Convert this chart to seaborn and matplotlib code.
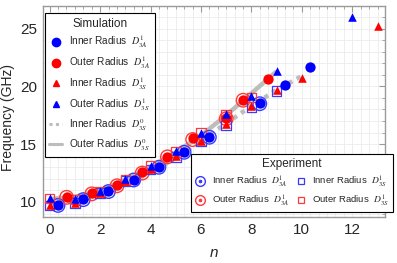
import numpy as np
import matplotlib
matplotlib.use("Agg")
import matplotlib.pyplot as plt
import seaborn as sns
from matplotlib.lines import Line2D
from matplotlib.ticker import MultipleLocator

# ------------------ DATA ------------------
# simulation D^1_3A (filled circles)
n_sim_in_3a = [0.33, 1.33, 2.33, 3.33, 4.33, 5.33, 6.33, 8.33, 9.33, 10.33]
f_sim_in_3a = [9.71, 10.23, 10.93, 11.9, 13.0, 14.35, 15.65, 18.6, 20.1, 21.7]
n_sim_out_3a = [0.67, 1.67, 2.67, 3.67, 4.67, 5.67, 7.0, 7.67, 8.67]
f_sim_out_3a = [10.4, 10.75, 11.45, 12.55, 13.9, 15.5, 17.3, 18.85, 20.6]

# simulation D^1_3S (triangles)
n_sim_in_3s = [0, 1, 2, 3, 4, 5, 6, 7, 8, 9, 10, 13]
f_sim_in_3s = [9.7, 9.95, 10.8, 11.8, 12.85, 13.95, 15.3, 16.75, 18.3, 19.7, 20.75, 25.2]
n_sim_out_3s = [0, 1, 2, 3, 4, 5, 6, 7, 8, 9, 12]
f_sim_out_3s = [10.3, 10.25, 10.95, 11.95, 13.1, 14.4, 16.0, 17.6, 19.15, 21.35, 26.0]

# simulation D^0_3S (grey curves)
n_d0_in = [0, 1, 2, 3, 4, 5, 6, 7, 8, 9, 10]
f_d0_in = [9.9, 10.1, 10.65, 11.5, 12.55, 13.8, 15.3, 16.8, 18.3, 19.7, 20.9]
n_d0_out = [0, 1, 2, 3, 4, 5, 6, 7, 8, 9]
f_d0_out = [10.25, 10.45, 11.0, 11.9, 13.0, 14.3, 15.75, 17.5, 19.4, 21.3]

# experiment
n_exp_in_3a = [0.33, 1.33, 2.33, 3.33, 4.33, 5.33, 6.33, 8.33]
f_exp_in_3a = [9.7, 10.2, 10.9, 11.9, 13.0, 14.3, 15.6, 18.5]
n_exp_out_3a = [0.67, 1.67, 2.67, 3.67, 4.67, 5.67, 7.0, 7.67]
f_exp_out_3a = [10.4, 10.7, 11.4, 12.5, 13.9, 15.4, 17.2, 18.8]
n_exp_in_3s = [0, 1, 2, 3, 4, 5, 6, 7, 8, 9]
f_exp_in_3s = [9.7, 9.9, 10.8, 11.8, 12.8, 13.9, 15.3, 16.6, 18.2, 19.6]
n_exp_out_3s = [0, 1, 2, 3, 4, 5, 6, 7, 8]
f_exp_out_3s = [10.3, 10.2, 10.9, 11.9, 13.1, 14.3, 16.0, 17.5, 19.05]

# ------------------ STYLE ------------------
sns.set_style("white")
plt.rcParams["font.family"] = ["Liberation Sans", "DejaVu Sans"]
plt.rcParams["mathtext.fontset"] = "stix"

BLUE, RED, GREY = "#0000ff", "#ff0000", "#bdbdbd"
EBLUE, ERED = "#3a3aff", "#ff3a3a"
DOTS = (0, (1, 1.1))

fig, ax = plt.subplots(figsize=(3.97, 2.63), dpi=100)
fig.subplots_adjust(left=0.108, right=0.970, bottom=0.175, top=0.977)

# grey D^0 curves
sns.lineplot(x=n_d0_in, y=f_d0_in, color=GREY, lw=3.2, linestyle=DOTS,
             dash_capstyle="butt", ax=ax, zorder=2)
sns.lineplot(x=n_d0_out, y=f_d0_out, color=GREY, lw=3.2, ax=ax, zorder=2,
             solid_capstyle="butt")

# experiment rings / squares
sns.scatterplot(x=n_exp_in_3a, y=f_exp_in_3a, marker="o", s=95, facecolors="none",
                edgecolor=EBLUE, linewidth=1.0, ax=ax, zorder=3)
sns.scatterplot(x=n_exp_out_3a, y=f_exp_out_3a, marker="o", s=95, facecolors="none",
                edgecolor=ERED, linewidth=1.0, ax=ax, zorder=3)
sns.scatterplot(x=n_exp_in_3s, y=f_exp_in_3s, marker="s", s=48, facecolors="none",
                edgecolor=EBLUE, linewidth=0.9, ax=ax, zorder=3)
sns.scatterplot(x=n_exp_out_3s, y=f_exp_out_3s, marker="s", s=48, facecolors="none",
                edgecolor=ERED, linewidth=0.9, ax=ax, zorder=3)

# simulation markers
sns.scatterplot(x=n_sim_in_3a, y=f_sim_in_3a, marker="o", s=55, color=BLUE,
                linewidth=0, ax=ax, zorder=4)
sns.scatterplot(x=n_sim_out_3a, y=f_sim_out_3a, marker="o", s=55, color=RED,
                linewidth=0, ax=ax, zorder=4)
sns.scatterplot(x=n_sim_in_3s, y=f_sim_in_3s, marker="^", s=38, color=RED,
                linewidth=0, ax=ax, zorder=5)
sns.scatterplot(x=n_sim_out_3s, y=f_sim_out_3s, marker="^", s=38, color=BLUE,
                linewidth=0, ax=ax, zorder=5)

# ------------------ AXES ------------------
ax.set_xlim(-0.27, 13.3)
ax.set_ylim(8.7, 26.95)
ax.xaxis.set_major_locator(MultipleLocator(2))
ax.xaxis.set_minor_locator(MultipleLocator(1 / 3))
ax.yaxis.set_major_locator(MultipleLocator(5))
ax.yaxis.set_minor_locator(MultipleLocator(1))
ax.grid(True, which="both", color="#ebebeb", lw=0.6, zorder=0)
ax.set_axisbelow(True)
for sp in ax.spines.values():
    sp.set_color("#9a9a9a")
    sp.set_linewidth(1.0)
ax.tick_params(which="both", direction="in", top=True, right=True, color="#9a9a9a")
ax.tick_params(which="major", length=4, width=0.8, labelsize=11, pad=4)
ax.tick_params(which="minor", length=2, width=0.6)
ax.set_xlabel("n", fontsize=11, style="italic", labelpad=7)
ax.set_ylabel("Frequency (GHz)", fontsize=10)
ax.yaxis.set_label_coords(-0.08, 0.47)

# ------------------ LEGENDS ------------------
sim_handles = [
    Line2D([], [], marker="o", color=BLUE, ls="none", ms=6),
    Line2D([], [], marker="o", color=RED, ls="none", ms=6),
    Line2D([], [], marker="^", color=RED, ls="none", ms=5),
    Line2D([], [], marker="^", color=BLUE, ls="none", ms=5),
    Line2D([], [], color=GREY, lw=2.2, ls=DOTS, dash_capstyle="butt"),
    Line2D([], [], color=GREY, lw=2.2),
]
sim_labels = [
    r"Inner Radius  $D^{1}_{3A}\quad\;$",
    r"Outer Radius  $D^{1}_{3A}\quad\;$",
    r"Inner Radius  $D^{1}_{3S}\quad\;$",
    r"Outer Radius  $D^{1}_{3S}\quad\;$",
    r"Inner Radius  $D^{0}_{3S}\quad\;$",
    r"Outer Radius  $D^{0}_{3S}\quad\;$",
]
leg1 = ax.legend(sim_handles, sim_labels, title="Simulation", loc="upper left",
                 bbox_to_anchor=(0.006, 0.967), borderaxespad=0, frameon=True,
                 fancybox=False, edgecolor="black", framealpha=1, fontsize=7.2,
                 title_fontsize=8.5, handlelength=1.3, handletextpad=0.7,
                 labelspacing=0.42, borderpad=0.45)
leg1.get_frame().set_linewidth(0.8)
ax.add_artist(leg1)

def ring(c):
    return (Line2D([], [], marker="o", mfc="none", mec=c, mew=1.0, ls="none", ms=7),
            Line2D([], [], marker="o", color=c, ls="none", ms=1.6))

exp_handles = [
    ring(EBLUE),
    ring(ERED),
    Line2D([], [], marker="s", mfc="none", mec=EBLUE, mew=0.9, ls="none", ms=5),
    Line2D([], [], marker="s", mfc="none", mec=ERED, mew=0.9, ls="none", ms=5),
]
exp_labels = [
    r"Inner Radius  $D^{1}_{3A}$",
    r"Outer Radius  $D^{1}_{3A}$",
    r"Inner Radius  $D^{1}_{3S}$",
    r"Outer Radius  $D^{1}_{3S}$",
]
leg2 = ax.legend(exp_handles, exp_labels, title="Experiment", ncol=2,
                 loc="lower right", bbox_to_anchor=(1.023, 0.024), borderaxespad=0,
                 frameon=True, fancybox=False, edgecolor="black", framealpha=1,
                 fontsize=6.8, title_fontsize=8.5, handlelength=1.2,
                 handletextpad=0.6, columnspacing=0.7, labelspacing=0.5,
                 borderpad=0.4)
leg2.get_frame().set_linewidth(0.8)
leg2.set_zorder(10)

fig.savefig("out.png", dpi=100)
